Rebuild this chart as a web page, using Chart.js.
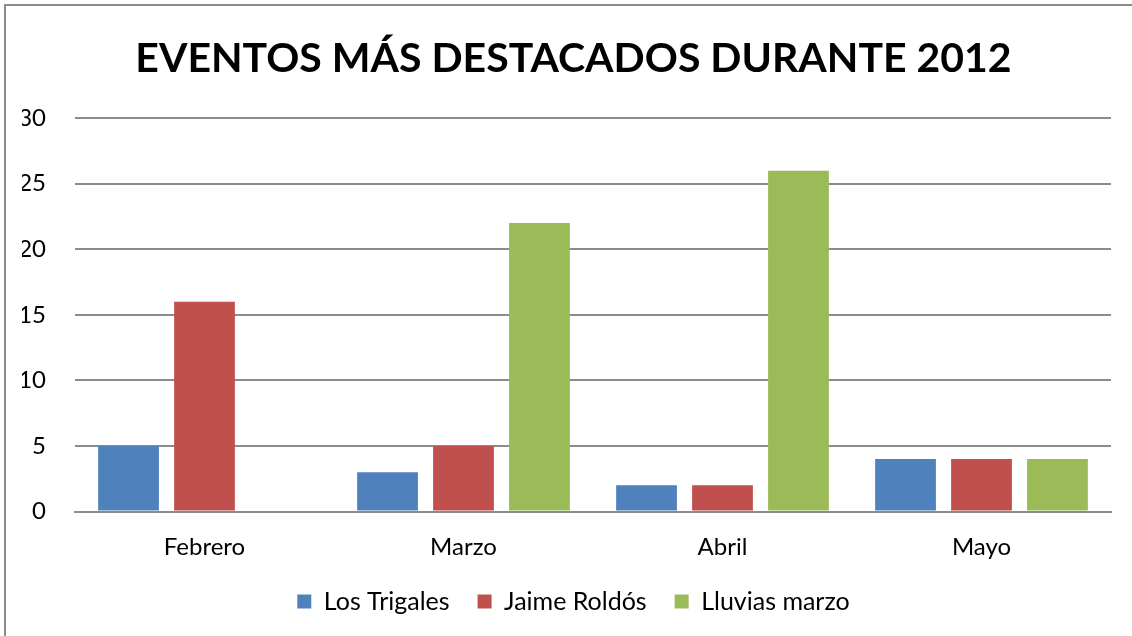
<!DOCTYPE html>
<html>
<head>
<meta charset="utf-8">
<script src="https://cdn.jsdelivr.net/npm/chart.js@4/dist/chart.umd.min.js"></script>
<style>
  html, body { margin: 0; padding: 0; background: #fff; overflow: hidden; width: 1132px; height: 636px; }
  #frame { position: absolute; left: 4px; top: 4px; width: 1140px; height: 640px; border: 2px solid #8c8c8c; box-sizing: border-box; }
  #eventChart { position: absolute; left: 0; top: 0; }
</style>
</head>
<body>
<div id="frame"></div>
<canvas id="eventChart" width="1132" height="636"></canvas>
<script>
var months = ["Febrero", "Marzo", "Abril", "Mayo"]
var losTrigales = [5, 3, 2, 4]
var jaimeRoldos = [16, 5, 2, 4]
var lluviasMarzo = [0, 22, 26, 4]
var yTicks = [0, 5, 10, 15, 20, 25, 30]

var font = "Lato, 'Open Sans', sans-serif"

// title and legend sit a few px right of centre in the original
var nudge = {
    id: 'nudge',
    afterLayout: function(chart) {
        var boxes = [chart.titleBlock, chart.legend]
        boxes.forEach(function(b) {
            if (!b) return
            b.left += 7
            b.right += 7
        })
    }
}

var ctx = document.getElementById('eventChart').getContext('2d');
var eventChart = new Chart(ctx, {
    type: 'bar',
    data: {
        labels: months,
        datasets: [
            { label: "Los Trigales", data: losTrigales, backgroundColor: '#4F81BD' },
            { label: "Jaime Roldós", data: jaimeRoldos, backgroundColor: '#C0504D' },
            { label: "Lluvias marzo", data: lluviasMarzo, backgroundColor: '#9BBB59' }
        ]
    },
    plugins: [nudge],
    options: {
        responsive: false,
        animation: false,
        datasets: {
            bar: { categoryPercentage: 0.88, barPercentage: 0.80 }
        },
        layout: { padding: { left: 22, right: 21, top: 12, bottom: 12 } },
        scales: {
            x: {
                grid: { display: false, drawTicks: false },
                border: { color: '#8c8c8c', width: 2 },
                ticks: { color: '#000', font: { family: font, size: 24 }, padding: 21 },
                afterFit: function(axis) { axis.height = 49.5 }
            },
            y: {
                min: 0,
                max: 30,
                afterBuildTicks: function(axis) {
                    axis.ticks = yTicks.map(function(v) { return { value: v } })
                },
                grid: { color: '#8c8c8c', lineWidth: 2, drawTicks: false },
                border: { display: false },
                ticks: { color: '#000', font: { family: font, size: 24 }, padding: 29 },
                afterFit: function(axis) { axis.width = 53 }
            }
        },
        plugins: {
            title: {
                display: true,
                text: "EVENTOS MÁS DESTACADOS DURANTE 2012",
                color: '#000',
                font: { family: font, size: 41, weight: 'bold' },
                padding: { top: 22, bottom: 35 }
            },
            legend: {
                position: 'bottom',
                labels: {
                    color: '#000',
                    font: { family: font, size: 25 },
                    boxWidth: 14,
                    boxHeight: 14,
                    padding: 28
                }
            },
            tooltip: { enabled: false }
        }
    }
});
</script>
</body>
</html>
